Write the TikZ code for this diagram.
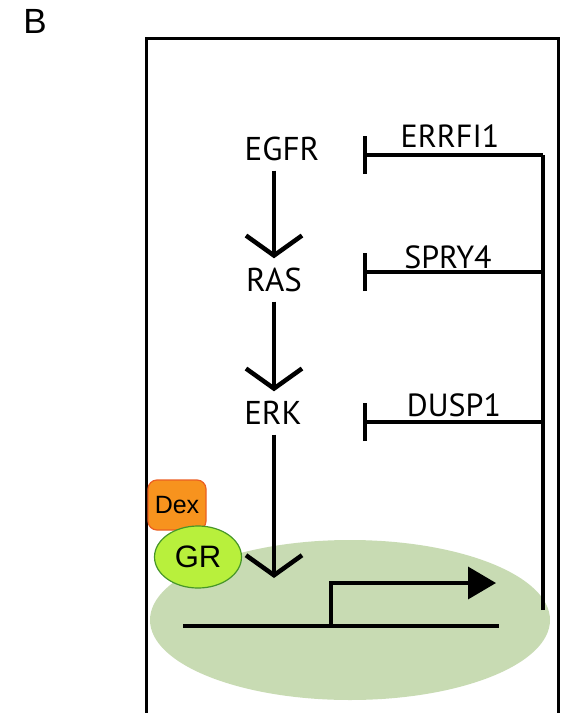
\documentclass[tikz,border=0pt]{standalone}
\usepackage{fontspec}
\setmainfont{PT Sans}
\newfontfamily\arialfont{Liberation Sans}
\usetikzlibrary{positioning,calc}
\usetikzlibrary{arrows.meta,shapes.geometric}
\definecolor{NucGreen}{RGB}{200,219,179}
\definecolor{DexOrange}{RGB}{247,147,30}
\definecolor{DexEdge}{RGB}{235,95,35}
\definecolor{GRLime}{RGB}{184,240,60}
\definecolor{GREdge}{RGB}{70,150,40}
\tikzset{
  prot/.style={inner xsep=0pt,inner ysep=10pt,text height=23pt,text depth=0pt,
    font=\fontsize{33}{33}\selectfont},
  gene/.style={anchor=base,inner sep=0pt,font=\fontsize{32}{32}\selectfont},
  act/.style={line width=4.5pt,-{Straight Barb[length=20pt,width=56pt]}},
  inh/.style={line width=3.5pt,-{Bar[width=38pt]}},
  wire/.style={line width=3.5pt},
}
\begin{document}
\begin{tikzpicture}[x=1pt,y=-1pt]
\useasboundingbox (0,0) rectangle (563,713);
\node[anchor=base,inner sep=0pt,font=\arialfont\fontsize{35}{35}\selectfont] (lbl) at (35,33) {B};
% cell outline, open at the bottom
\draw[line width=3pt] (146,713) -- (146,38) -- (558,38) -- (558,713);
% nucleus
\fill[NucGreen] (350,620) ellipse [x radius=200,y radius=80];
% pathway
\node[prot] (egfr) at (282,149) {EGFR};
\node[prot] (ras) at (274,280) {RAS};
\node[prot] (erk) at (273,413) {ERK};
\coordinate (tf) at (274,578);
\draw[act] (ras.north |- egfr.south) -- (ras);
\draw[act] (ras) -- (erk.north -| ras);
\draw[act] (erk.south -| ras) -- (tf);
% feedback inhibitors
\coordinate (fb1) at (543,155);
\coordinate (fb2) at (543,272);
\coordinate (fb3) at (543,422);
\coordinate (fb0) at (543,610);
\coordinate (t1) at (363,155);
\coordinate (t2) at (363,272);
\coordinate (t3) at (363,422);
\draw[wire] (fb0) -- (fb1);
\draw[inh] (fb1) -- (t1);
\draw[inh] (fb2) -- (t2);
\draw[inh] (fb3) -- (t3);
\node[gene] (errfi) at (450,147) {ERRFI1};
\node[gene] (spry) at (448,268) {SPRY4};
\node[gene] (dusp) at (454,416) {DUSP1};
% gene with promoter
\coordinate (g0) at (183,626);
\coordinate (g1) at (499,626);
\coordinate (p0) at (331,626);
\coordinate (p1) at (331,583);
\coordinate (p2) at (496,583);
\draw[wire] (g0) -- (g1);
\draw[wire,-{Triangle[length=28pt,width=32pt]}] (p0) -- (p1) -- (p2);
% Dex bound to GR
\node[draw=DexEdge,fill=DexOrange,line width=1.2pt,rounded corners=9pt,
  minimum width=58pt,minimum height=50pt,inner sep=0pt,
  font=\arialfont\fontsize{25}{25}\selectfont] (dex) at (177,505) {Dex};
\node[ellipse,draw=GREdge,fill=GRLime,line width=1.2pt,
  minimum width=87pt,minimum height=62pt,inner sep=0pt,
  font=\arialfont\fontsize{31}{31}\selectfont] (gr) at (198,557) {GR};
\end{tikzpicture}
\end{document}
